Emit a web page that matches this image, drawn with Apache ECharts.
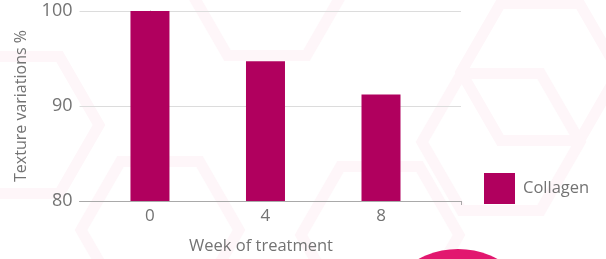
<!DOCTYPE html>
<html>
<head>
<meta charset="utf-8">
<script src="https://cdn.jsdelivr.net/npm/echarts@6/dist/echarts.min.js"></script>
<style>
html,body{margin:0;padding:0;background:#fff;}
#c{width:606px;height:259px;}
</style>
</head>
<body>
<div id="c"></div>
<script>
// Data
const weeks = [0, 4, 8];
const collagen = [100, 94.7, 91.2];
const yTicks = [80, 90, 100];
const seriesName = 'Collagen';
const xTitle = 'Week of treatment';
const yTitle = 'Texture variations %';

const FONT = '"Open Sans", sans-serif';
const TXT = '#737373';
const BAR = '#b0005e';

// decorative hexagons (background)
const hexCenters = [[501,142],[540,72],[267,-13],[20,125],[160,230],[380,235]];
function hexPoints(cx, cy, r){
  const pts = [];
  for (let i = 0; i < 6; i++) {
    const a = Math.PI / 3 * i;
    pts.push([cx + r * Math.cos(a), cy + r * Math.sin(a)]);
  }
  return pts;
}
const hexGraphics = hexCenters.map(c => ({
  type: 'polygon', silent: true, z: -10,
  shape: { points: hexPoints(c[0], c[1], 79) },
  style: { fill: 'none', stroke: '#fef6f9', lineWidth: 11 }
}));

const chart = echarts.init(document.getElementById('c'), null, {renderer: 'canvas'});
chart.setOption({
  backgroundColor: '#ffffff',
  animation: false,
  grid: { left: 79.5, top: 11, width: 381.5, height: 190, containLabel: false },
  legend: {
    show: true, left: 479, top: 168, itemWidth: 31, itemHeight: 31, icon: 'rect',
    data: [{ name: seriesName, itemStyle: { color: BAR, borderWidth: 0 } }],
    textStyle: { fontFamily: FONT, fontSize: 16.5, color: TXT, padding: [0,0,0,3] }
  },
  xAxis: {
    type: 'value', min: -2.44, max: 10.77,
    axisLine: { show: true, lineStyle: { color: '#a9a9a9', width: 1 } },
    axisTick: { show: true, customValues: [10.77], length: 4, lineStyle: { color: '#a9a9a9' } },
    splitLine: { show: false },
    axisLabel: { customValues: weeks, fontFamily: FONT, fontSize: 17, color: TXT, margin: 7 }
  },
  yAxis: {
    type: 'value', min: yTicks[0], max: yTicks[yTicks.length-1], interval: 10,
    axisLine: { show: true, lineStyle: { color: '#a9a9a9', width: 1 } },
    axisTick: { show: false },
    splitLine: { show: true, lineStyle: { color: '#dcdcdc', width: 1 } },
    axisLabel: { fontFamily: FONT, fontSize: 18, color: TXT, margin: 7 }
  },
  series: [{
    name: seriesName, type: 'bar', barWidth: 39,
    itemStyle: { color: BAR },
    data: weeks.map((w, i) => [w, collagen[i]])
  }],
  graphic: hexGraphics.concat([
    { type: 'circle', silent: true, z: -5, shape: { cx: 458, cy: 332, r: 83 }, style: { fill: '#e2176f' } },
    { type: 'text', x: 261, y: 246, style: { text: xTitle, fontFamily: FONT, fontSize: 16.5, fill: TXT, align: 'center', verticalAlign: 'middle' } },
    { type: 'text', x: 21, y: 106, rotation: Math.PI / 2, style: { text: yTitle, fontFamily: FONT, fontSize: 16, fill: TXT, align: 'center', verticalAlign: 'middle' } }
  ])
});
</script>
</body>
</html>
